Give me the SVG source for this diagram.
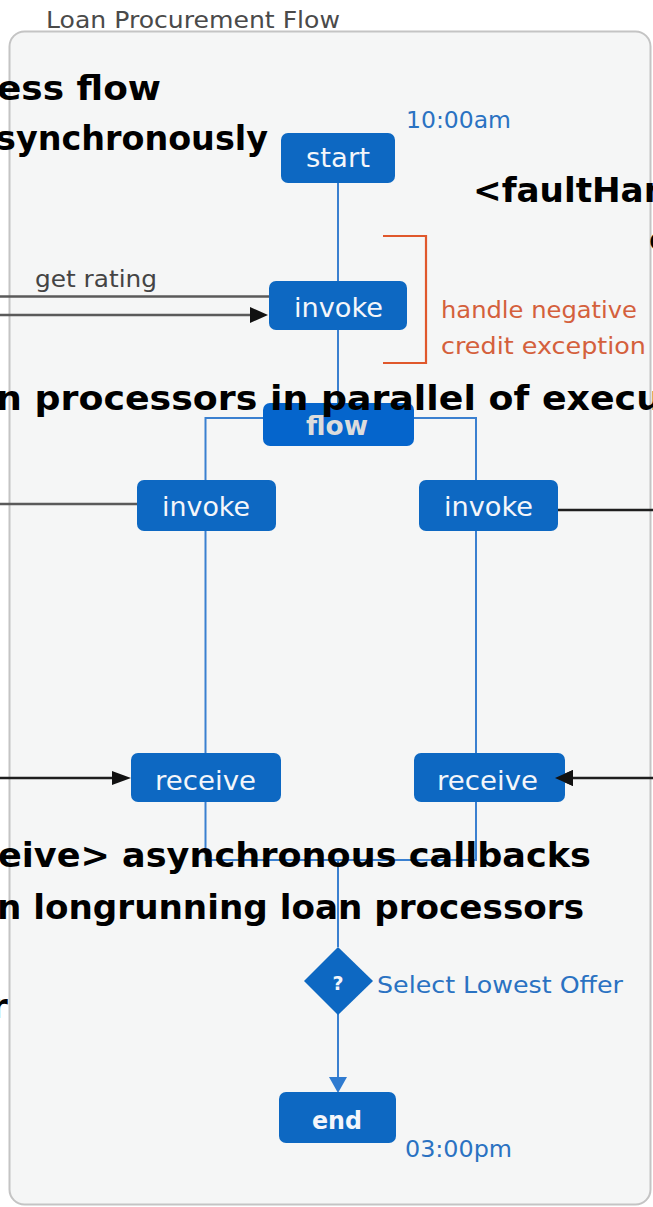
<svg xmlns="http://www.w3.org/2000/svg" width="653" height="1207" viewBox="0 0 653 1207">
  <defs>
    <style>
      .frame { fill: #f5f6f6; stroke: #c4c4c4; stroke-width: 2; }
      .title { font-family: "DejaVu Sans", "Liberation Sans", sans-serif; font-size: 23px; fill: #4a4a4a; }
      .node { fill: #0d68c2; }
      .node-flow { fill: #0565cc; }
      .ntext { font-family: "DejaVu Sans", "Liberation Sans", sans-serif; font-size: 27px; fill: #f4f6fa; text-anchor: start; }
      .ntext-b { font-family: "DejaVu Sans", "Liberation Sans", sans-serif; font-weight: bold; fill: #f4f6fa; }
      .label { font-family: "DejaVu Sans", "Liberation Sans", sans-serif; font-size: 23px; }
      .blue-lbl { fill: #2a72c2; }
      .gray-lbl { fill: #444444; }
      .red-lbl { fill: #d4603c; }
      .wire { fill: none; stroke: #3a80d0; stroke-width: 2; }
      .msg-gray { fill: none; stroke: #5a5a5a; stroke-width: 2.5; }
      .msg-dark { fill: none; stroke: #1e1e1e; stroke-width: 2.5; }
      .bracket { fill: none; stroke: #e0582c; stroke-width: 2.2; }
      .note { font-family: "DejaVu Sans", "Liberation Sans", sans-serif; font-weight: bold; font-size: 34px; fill: #000000; }
    </style>
    <marker id="arrow-dark" viewBox="0 0 10 10" refX="10" refY="5" markerWidth="7" markerHeight="7" markerUnits="userSpaceOnUse" orient="auto">
      <path d="M0,0 L10,5 L0,10 z" fill="#111111"/>
    </marker>
  </defs>

  <!-- page background -->
  <rect x="0" y="0" width="653" height="1207" fill="#ffffff"/>

  <!-- process scope frame -->
  <g id="scope">
    <rect class="frame" x="9.5" y="31.5" width="641" height="1173" rx="15" ry="15"/>
    <text class="title" x="46" y="28" textLength="294" lengthAdjust="spacingAndGlyphs">Loan Procurement Flow</text>
  </g>

  <!-- connectors -->
  <g id="connectors">
    <!-- main sequence -->
    <line class="wire" x1="338" y1="183" x2="338" y2="281"/>
    <line class="wire" x1="338" y1="330" x2="338" y2="418"/>
    <!-- parallel flow branches -->
    <rect class="wire" x="205.5" y="418" width="270.5" height="442"/>
    <line class="wire" x1="338" y1="860" x2="338" y2="947"/>
    <line class="wire" x1="338" y1="1014" x2="338" y2="1080"/>
    <path d="M329,1077 L347,1077 L338,1093 z" fill="#2f7bd0"/>

    <!-- credit rating exchange -->
    <line class="msg-gray" x1="0" y1="296.5" x2="269" y2="296.5"/>
    <line class="msg-gray" x1="0" y1="315" x2="253" y2="315"/>
    <path d="M250,307 L268,315 L250,323 z" fill="#111111"/>

    <!-- loan processor calls -->
    <line class="msg-gray" x1="0" y1="504" x2="137" y2="504"/>
    <line class="msg-dark" x1="558" y1="510" x2="653" y2="510"/>

    <!-- asynchronous callbacks -->
    <line class="msg-dark" x1="0" y1="778" x2="115" y2="778"/>
    <path d="M112,771 L131,778 L112,785 z" fill="#111111"/>
    <line class="msg-dark" x1="570" y1="778" x2="653" y2="778"/>
    <path d="M573,770 L555,778 L573,786 z" fill="#111111"/>

    <!-- fault handler scope bracket -->
    <path class="bracket" d="M383,236 L426,236 L426,363 L383,363"/>
  </g>

  <!-- nodes -->
  <g id="start">
    <rect class="node" x="281" y="133" width="114" height="50" rx="7"/>
    <text class="ntext" x="306" y="167" textLength="64" lengthAdjust="spacingAndGlyphs">start</text>
    <text class="label blue-lbl" x="406" y="128" font-size="22" textLength="105" lengthAdjust="spacingAndGlyphs">10:00am</text>
  </g>

  <g id="invoke-rating">
    <rect class="node" x="269" y="281" width="138" height="49" rx="7"/>
    <text class="ntext" x="294" y="317" textLength="89" lengthAdjust="spacingAndGlyphs">invoke</text>
    <text class="label gray-lbl" x="35" y="287" textLength="122" lengthAdjust="spacingAndGlyphs">get rating</text>
  </g>

  <g id="fault-handler">
    <text class="label red-lbl" x="441" y="318" textLength="196" lengthAdjust="spacingAndGlyphs">handle negative</text>
    <text class="label red-lbl" x="441" y="354" textLength="205" lengthAdjust="spacingAndGlyphs">credit exception</text>
  </g>

  <g id="flow">
    <rect class="node-flow" x="263" y="403" width="151" height="43" rx="7"/>
    <text class="ntext-b" x="306" y="435" font-size="27" fill="#dcdcdc" style="fill:#dcdcdc" textLength="62" lengthAdjust="spacingAndGlyphs">flow</text>
  </g>

  <g id="invoke-left">
    <rect class="node" x="137" y="480" width="139" height="51" rx="7"/>
    <text class="ntext" x="162" y="516" textLength="88" lengthAdjust="spacingAndGlyphs">invoke</text>
  </g>

  <g id="invoke-right">
    <rect class="node" x="419" y="480" width="139" height="51" rx="7"/>
    <text class="ntext" x="444" y="516" textLength="89" lengthAdjust="spacingAndGlyphs">invoke</text>
  </g>

  <g id="receive-left">
    <rect class="node" x="131" y="753" width="150" height="49" rx="7"/>
    <text class="ntext" x="155" y="790" textLength="101" lengthAdjust="spacingAndGlyphs">receive</text>
  </g>

  <g id="receive-right">
    <rect class="node" x="414" y="753" width="151" height="49" rx="7"/>
    <text class="ntext" x="437" y="790" textLength="101" lengthAdjust="spacingAndGlyphs">receive</text>
  </g>
  <!-- arrowhead sits over the right receive box edge -->
  <path d="M573,770 L555,778 L573,786 z" fill="#111111"/>

  <g id="decision">
    <path class="node" d="M338,947 L373,981 L338,1015 L304,981 z"/>
    <text class="ntext-b" x="338" y="990" font-size="19" text-anchor="middle">?</text>
    <text class="label blue-lbl" x="377" y="993" font-size="24" textLength="246" lengthAdjust="spacingAndGlyphs">Select Lowest Offer</text>
  </g>

  <g id="end">
    <rect class="node" x="279" y="1092" width="117" height="51" rx="7"/>
    <text class="ntext-b" x="312" y="1129" font-size="24" textLength="50" lengthAdjust="spacingAndGlyphs">end</text>
    <text class="label blue-lbl" x="405" y="1157" font-size="22" textLength="107" lengthAdjust="spacingAndGlyphs">03:00pm</text>
  </g>

  <!-- handwritten-style annotations drawn over the flow -->
  <g id="annotations">
    <text class="note" x="-3" y="100" textLength="164" lengthAdjust="spacingAndGlyphs">ess flow</text>
    <text class="note" x="-4" y="150" textLength="272" lengthAdjust="spacingAndGlyphs">synchronously</text>
    <text class="note" x="473" y="202" textLength="195" lengthAdjust="spacingAndGlyphs">&lt;faultHan</text>
    <text class="note" x="649" y="251">c</text>
    <text class="note" x="-4" y="410" textLength="666" lengthAdjust="spacingAndGlyphs">n processors in parallel of execu</text>
    <text class="note" x="-2" y="867" textLength="593" lengthAdjust="spacingAndGlyphs">eive&gt; asynchronous callbacks</text>
    <text class="note" x="-3" y="919" textLength="587" lengthAdjust="spacingAndGlyphs">n longrunning loan processors</text>
    <text class="note" x="-9" y="1018">r</text>
  </g>
</svg>
